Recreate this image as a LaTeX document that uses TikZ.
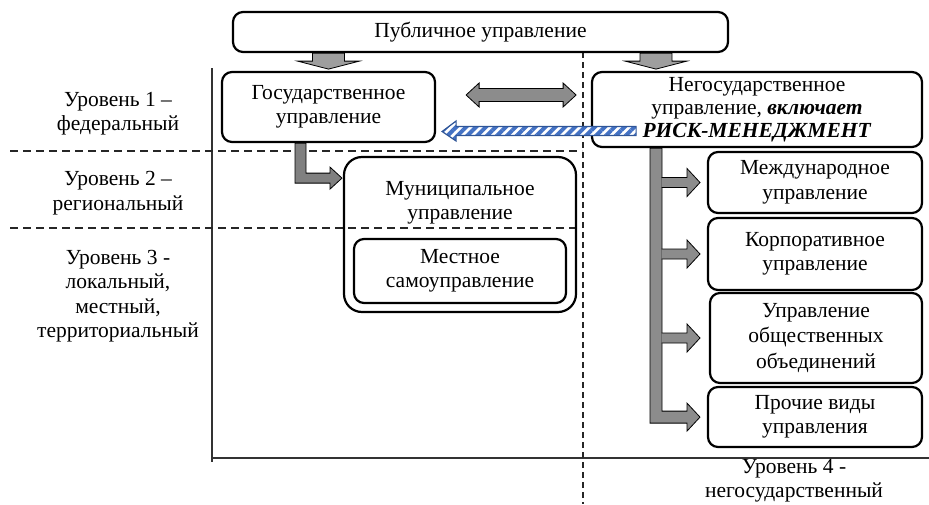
\documentclass[tikz,border=0pt]{standalone}
\usepackage{fontspec}
\setmainfont{Liberation Serif}
\usepackage{tikz}
\usetikzlibrary{positioning,patterns.meta}
\definecolor{riskblue}{HTML}{2F5597}
\definecolor{stripeblue}{HTML}{4472C4}

\begin{document}
\begin{tikzpicture}[x=1pt,y=-1pt,
  font=\fontsize{21.5}{24.5}\selectfont,
  box/.style={draw,line width=2.2pt,rounded corners=10pt,align=center,inner sep=0pt},
  level/.style={align=center,inner sep=0pt},
  blk/.style={draw=black,line width=0.8pt,fill=black!45,line join=miter},
  sep/.style={black!85,line width=1.3pt,dash pattern=on 8pt off 5pt},
  axis/.style={black!80,line width=1.2pt}]
\useasboundingbox (0,0) rectangle (929,504);

\draw[axis] (212,68) -- (212,462);
\draw[axis] (212,458) -- (929,458);
\draw[sep] (10,151) -- (582,151);
\draw[sep] (10,228) -- (576,228);
\draw[sep,dash pattern=on 6pt off 4pt] (583,52) -- (583,504);

\node[box,minimum width=495pt,minimum height=40pt] (pub) at (480.5,32) {Публичное управление};
\node[box,minimum width=213pt,minimum height=70pt] (gov) at (328.5,107) {Государственное\\управление};
\node[box,minimum width=330pt,minimum height=75pt,font=\fontsize{21.5}{23}\selectfont] (nongov) at (757,109.5) {Негосударственное\\управление, \textbf{\textit{включает}}\\\textbf{\textit{РИСК-МЕНЕДЖМЕНТ}}};
\node[box,rounded corners=18pt,minimum width=232pt,minimum height=155pt] (mun) at (460,234.5) {};
\node[level] (muntext) at (460,203) {Муниципальное\\управление};
\node[box,minimum width=212pt,minimum height=64pt] (local) at (460,271) {Местное\\самоуправление};
\node[box,minimum width=214pt,minimum height=61pt] (intl) at (815,182.5) {Международное\\управление};
\node[box,minimum width=214pt,minimum height=72pt] (corp) at (815,254) {Корпоративное\\управление};
\node[box,minimum width=212pt,minimum height=90pt,font=\fontsize{21.5}{25.5}\selectfont] (assoc) at (816,338) {Управление\\общественных\\объединений};
\node[box,minimum width=214pt,minimum height=60pt] (other) at (815,417) {Прочие виды\\управления};

\node[level] (lvl1) at (118,113.5) {Уровень 1 –\\федеральный};
\node[level] (lvl2) at (118,193) {Уровень 2 –\\региональный};
\node[level] (lvl3) at (118,296) {Уровень 3 -\\локальный,\\местный,\\территориальный};
\node[level] (lvl4) at (794,480.5) {Уровень 4 -\\негосударственный};

\coordinate (spine) at ([xshift=-101pt]nongov.south);

\draw[blk,fill=black!38] (pub.south -| gov.center) ++(-16,0) -- ++(0,8) -- ++(-15,0) -- ++(31,8) -- ++(31,-8) -- ++(-15,0) -- ++(0,-8) -- cycle;
\draw[blk,fill=black!38] (pub.south -| spine) ++(-16,0) -- ++(0,8) -- ++(-15,0) -- ++(31,8) -- ++(31,-8) -- ++(-15,0) -- ++(0,-8) -- cycle;
\draw[blk] ([xshift=30pt,yshift=12pt]gov.east) -- ++(13,-12) -- ++(0,5.5) -- ++(84,0) -- ++(0,-5.5) -- ++(13,12) -- ++(-13,12) -- ++(0,-5.5) -- ++(-84,0) -- ++(0,5.5) -- cycle;
\draw[draw=riskblue,line width=1.2pt,preaction={fill=white},pattern={Lines[angle=45,distance=7pt,line width=4pt]},pattern color=stripeblue] ([xshift=6pt,yshift=-24.5pt]gov.east) -- ++(14,-10.5) -- ++(0,5.5) -- ++(180,0) -- ++(0,9) -- ++(-180,0) -- ++(0,5.5) -- cycle;

\draw[blk,fill=black!50] (gov.south) ++(-33.5,0) -- ++(0,40) -- ++(35,0) -- ++(0,6) -- ++(12,-11) -- ++(-12,-11) -- ++(0,6) -- ++(-24,0) -- ++(0,-30) -- cycle;
\draw[blk] (spine) ++(-6,0) -- ++(0,275) -- ++(37,0) -- ++(0,8) -- ++(13,-14) -- ++(-13,-14) -- ++(0,8) -- ++(-25,0) -- ++(0,-263) -- cycle;
\foreach \t in {intl,corp,assoc}
  \draw[blk] (spine |- \t.west) ++(5.5,-5) -- ++(25.5,0) -- ++(0,-9) -- ++(13,14) -- ++(-13,14) -- ++(0,-9) -- ++(-25.5,0);
\end{tikzpicture}
\end{document}
